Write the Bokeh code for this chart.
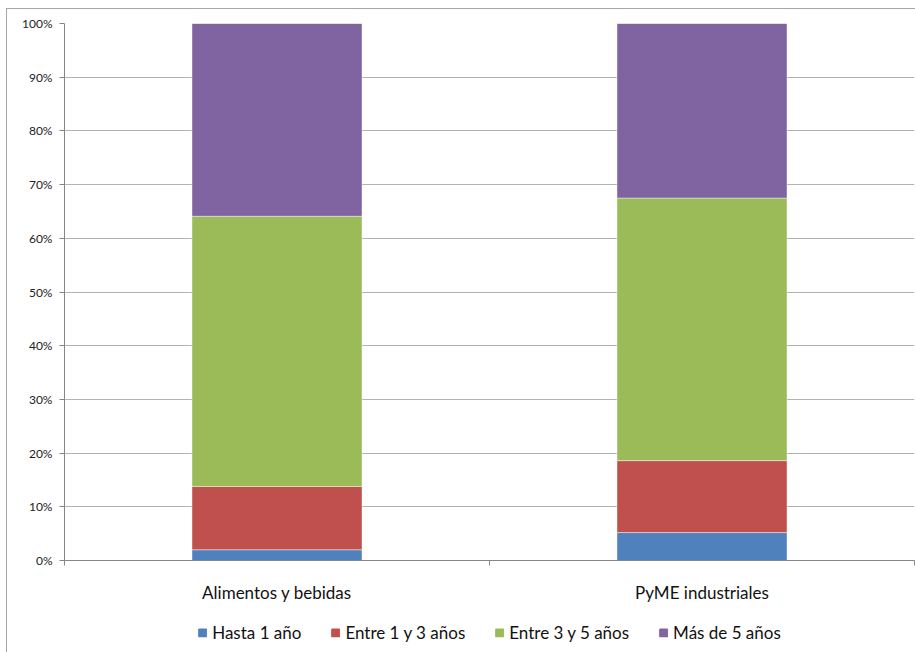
from bokeh.plotting import figure
from bokeh.models import (ColumnDataSource, FixedTicker, NumeralTickFormatter,
                          Legend, LegendItem, Range1d)
from bokeh.layouts import column
from bokeh.embed import file_html
from bokeh.resources import INLINE

categories = ["Alimentos y bebidas", "PyME industriales"]
hasta_1 = [0.020, 0.052]
entre_1_3 = [0.118, 0.134]
entre_3_5 = [0.503, 0.489]
mas_5 = [0.359, 0.325]
series_names = ["Hasta 1 año", "Entre 1 y 3 años", "Entre 3 y 5 años", "Más de 5 años"]
colors = ["#4F81BD", "#C0504D", "#9BBB59", "#8064A2"]
y_ticks = [0.0, 0.1, 0.2, 0.3, 0.4, 0.5, 0.6, 0.7, 0.8, 0.9, 1.0]

xpos = [i + 0.5 for i in range(len(categories))]
keys = ["h1", "e13", "e35", "m5"]
source = ColumnDataSource(dict(x=xpos, h1=hasta_1, e13=entre_1_3, e35=entre_3_5, m5=mas_5))

FONT = "Lato"

p = figure(width=915, height=612, output_backend="svg", toolbar_location=None,
           x_range=Range1d(0, len(categories)), y_range=Range1d(0, 1),
           min_border_left=64, min_border_right=1, min_border_top=23,
           min_border_bottom=52)

p.vbar_stack(keys, x="x", width=0.4, source=source, color=colors,
             line_color="white", line_width=0.6, line_alpha=0.7)

p.outline_line_color = None
p.border_fill_color = None
p.background_fill_color = "white"
p.xgrid.grid_line_color = None
p.ygrid.grid_line_color = "#b3b3b3"
p.ygrid.grid_line_width = 1
p.ygrid.ticker = FixedTicker(ticks=y_ticks)

# y axis
p.yaxis.ticker = FixedTicker(ticks=y_ticks)
p.yaxis.formatter = NumeralTickFormatter(format="0%")
p.yaxis.axis_line_color = "#868686"
p.yaxis.major_tick_line_color = "#868686"
p.yaxis.major_tick_out = 5
p.yaxis.major_tick_in = 0
p.yaxis.minor_tick_line_color = None
p.yaxis.major_label_text_font = FONT
p.yaxis.major_label_text_font_size = "12px"
p.yaxis.major_label_text_color = "#222222"
p.yaxis.major_label_standoff = 7

# x axis
p.xaxis.ticker = FixedTicker(ticks=xpos, minor_ticks=[float(i) for i in range(len(categories) + 1)])
p.xaxis.major_label_overrides = {x: c for x, c in zip(xpos, categories)}
p.xaxis.axis_line_color = "#868686"
p.xaxis.major_tick_line_color = None
p.xaxis.minor_tick_line_color = "#868686"
p.xaxis.minor_tick_out = 5
p.xaxis.minor_tick_in = 0
p.xaxis.major_label_text_font = FONT
p.xaxis.major_label_text_font_size = "17px"
p.xaxis.major_label_text_color = "#111111"
p.xaxis.major_label_standoff = 15

# legend strip (separate figure so the legend is not clipped); its proxy
# renderers use the same data but lie outside this strip's ranges
pl = figure(width=915, height=40, output_backend="svg", toolbar_location=None,
            x_range=Range1d(len(categories) + 10, len(categories) + 11),
            y_range=Range1d(10, 11),
            min_border_left=25, min_border_right=0, min_border_top=0,
            min_border_bottom=0)
pl.axis.visible = False
pl.grid.visible = False
pl.outline_line_color = None
pl.border_fill_color = None
pl.background_fill_color = None

items = []
for name, key, c in zip(series_names, keys, colors):
    r = pl.vbar(x="x", top=key, width=0.4, color=c, source=source)
    items.append(LegendItem(label=name, renderers=[r]))

legend = Legend(items=items, orientation="horizontal", location="center",
                glyph_width=10, glyph_height=10, label_standoff=5, spacing=29,
                label_text_font=FONT, label_text_font_size="17px",
                label_text_color="#111111", border_line_color=None,
                background_fill_alpha=0, padding=3, margin=0, label_height=20)
pl.add_layout(legend, "center")

layout = column(p, pl, spacing=0)
layout.styles = {"box-shadow": "inset 6px 8px 0 0 #ffffff, inset 7px 9px 0 0 #a6a6a6"}

open("out.html", "w").write(file_html(layout, INLINE))
